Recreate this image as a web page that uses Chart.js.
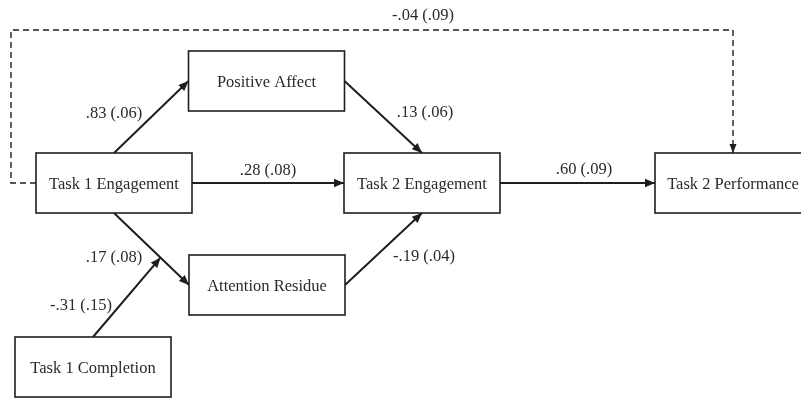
<!DOCTYPE html>
<html>
<head>
<meta charset="utf-8">
<script src="https://cdn.jsdelivr.net/npm/chart.js@4"></script>
<style>
  html, body { margin: 0; padding: 0; background: #fff; }
  #wrap { width: 801px; height: 398px; position: relative; }
</style>
</head>
<body>
<div id="wrap"><canvas id="c"></canvas></div>
<script>
// Path model: variables and standardized path estimates (SE)
const nodeNames = ['Task 1 Engagement', 'Positive Affect', 'Task 2 Engagement',
                   'Task 2 Performance', 'Attention Residue', 'Task 1 Completion'];
const pathFrom  = ['Task 1 Engagement', 'Positive Affect', 'Task 1 Engagement',
                   'Attention Residue', 'Task 1 Engagement', 'Task 2 Engagement',
                   'Task 1 Completion', 'Task 1 Engagement'];
const pathTo    = ['Positive Affect', 'Task 2 Engagement', 'Attention Residue',
                   'Task 2 Engagement', 'Task 2 Engagement', 'Task 2 Performance',
                   'Task1Eng->AttRes', 'Task 2 Performance'];
const estimates = ['.83', '.13', '.17', '-.19', '.28', '.60', '-.31', '-.04'];
const stdErrors = ['.06', '.06', '.08', '.04', '.08', '.09', '.15', '.09'];

// Diagram layout in canvas units (x: 0-801, y: 0-398 downward)
const layout = {
  box: { w: 156, h: 60 },
  nodes: {
    'Task 1 Engagement':  [114, 183],
    'Positive Affect':    [266.5, 81],
    'Task 2 Engagement':  [422, 183],
    'Task 2 Performance': [733, 183],
    'Attention Residue':  [267, 285],
    'Task 1 Completion':  [93, 367]
  },
  labels: [[114, 114], [425, 113], [114, 258], [424, 257],
           [268, 171], [584, 170], [81, 306], [423, 16]],
  dashRouteX: 11, dashRouteY: 30,
  moderationT: 0.62
};

const W = layout.box.w, H = layout.box.h;
const N = layout.nodes;
function side(name, s) {
  const [cx, cy] = N[name];
  if (s === 'top') return { x: cx, y: cy - H / 2 };
  if (s === 'bottom') return { x: cx, y: cy + H / 2 };
  if (s === 'left') return { x: cx - W / 2, y: cy };
  return { x: cx + W / 2, y: cy };
}
const t1eBottom = side('Task 1 Engagement', 'bottom');
const arLeft = side('Attention Residue', 'left');
const modPoint = {
  x: t1eBottom.x + (arLeft.x - t1eBottom.x) * layout.moderationT,
  y: t1eBottom.y + (arLeft.y - t1eBottom.y) * layout.moderationT
};
const segs = [
  [side('Task 1 Engagement', 'top'), side('Positive Affect', 'left')],
  [side('Positive Affect', 'right'), side('Task 2 Engagement', 'top')],
  [t1eBottom, arLeft],
  [side('Attention Residue', 'right'), side('Task 2 Engagement', 'bottom')],
  [side('Task 1 Engagement', 'right'), side('Task 2 Engagement', 'left')],
  [side('Task 2 Engagement', 'right'), side('Task 2 Performance', 'left')],
  [side('Task 1 Completion', 'top'), modPoint]
];
const t1eLeft = side('Task 1 Engagement', 'left');
const t2pTop = side('Task 2 Performance', 'top');
const dashedRoute = [
  t1eLeft,
  { x: layout.dashRouteX, y: t1eLeft.y },
  { x: layout.dashRouteX, y: layout.dashRouteY },
  { x: t2pTop.x, y: layout.dashRouteY },
  t2pTop
];

const INK = '#1e1e1e';
const TEXT = '#2a2a2a';
const FONT = '16.5px "Liberation Serif", "Times New Roman", serif';

const datasets = segs.map(s => ({
  type: 'line', data: s, showLine: true, borderColor: INK, borderWidth: 2,
  pointRadius: 0, fill: false, tension: 0
}));
datasets.push({
  type: 'line', data: dashedRoute, showLine: true, borderColor: INK, borderWidth: 1.4,
  borderDash: [6, 4], pointRadius: 0, fill: false, tension: 0
});

function arrowHead(ctx, from, to, len, half) {
  const a = Math.atan2(to.y - from.y, to.x - from.x);
  ctx.beginPath();
  ctx.moveTo(to.x, to.y);
  ctx.lineTo(to.x - len * Math.cos(a) + half * Math.sin(a), to.y - len * Math.sin(a) - half * Math.cos(a));
  ctx.lineTo(to.x - len * Math.cos(a) - half * Math.sin(a), to.y - len * Math.sin(a) + half * Math.cos(a));
  ctx.closePath();
  ctx.fill();
}

const diagramPlugin = {
  id: 'pathDiagram',
  afterDatasetsDraw(chart) {
    const { ctx, scales: { x, y } } = chart;
    const px = p => ({ x: x.getPixelForValue(p.x), y: y.getPixelForValue(p.y) });
    ctx.save();
    ctx.fillStyle = INK;
    // arrowheads
    chart.data.datasets.forEach(ds => {
      const n = ds.data.length;
      const dashed = ds.borderDash && ds.borderDash.length;
      arrowHead(ctx, px(ds.data[n - 2]), px(ds.data[n - 1]), dashed ? 9 : 10, dashed ? 3.5 : 4.2);
    });
    // variable boxes
    ctx.strokeStyle = INK;
    ctx.lineWidth = 1.6;
    ctx.font = FONT;
    ctx.textAlign = 'center';
    ctx.textBaseline = 'middle';
    nodeNames.forEach(name => {
      const [cx, cy] = N[name];
      const tl = px({ x: cx - W / 2, y: cy - H / 2 });
      const br = px({ x: cx + W / 2, y: cy + H / 2 });
      ctx.fillStyle = '#fff';
      ctx.fillRect(tl.x, tl.y, br.x - tl.x, br.y - tl.y);
      ctx.strokeRect(tl.x, tl.y, br.x - tl.x, br.y - tl.y);
      ctx.fillStyle = TEXT;
      const c = px({ x: cx, y: cy });
      ctx.fillText(name, c.x, c.y + 2);
    });
    // path estimates
    ctx.fillStyle = TEXT;
    estimates.forEach((est, i) => {
      const p = px({ x: layout.labels[i][0], y: layout.labels[i][1] });
      ctx.fillText(est + ' (' + stdErrors[i] + ')', p.x, p.y);
    });
    ctx.restore();
  }
};

new Chart(document.getElementById('c'), {
  type: 'scatter',
  data: { datasets },
  options: {
    responsive: true,
    maintainAspectRatio: false,
    animation: false,
    layout: { padding: 0 },
    plugins: { legend: { display: false }, tooltip: { enabled: false } },
    scales: {
      x: { type: 'linear', min: 0, max: 801, display: false },
      y: { type: 'linear', min: 0, max: 398, reverse: true, display: false }
    }
  },
  plugins: [diagramPlugin]
});
</script>
</body>
</html>
